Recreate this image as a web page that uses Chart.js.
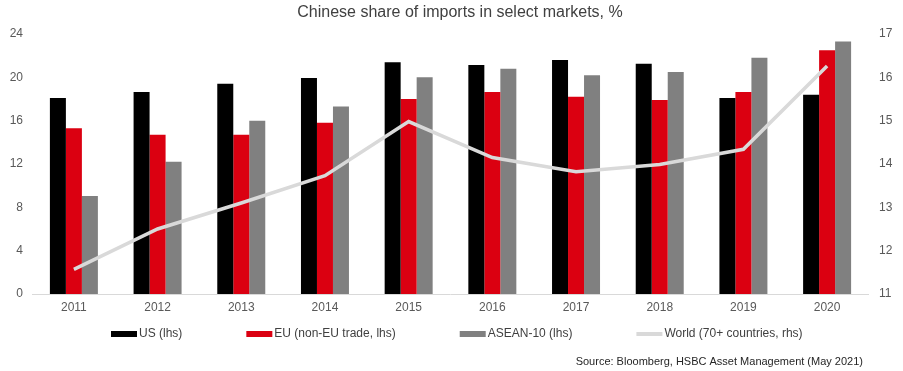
<!DOCTYPE html>
<html>
<head>
<meta charset="utf-8">
<script src="https://cdn.jsdelivr.net/npm/chart.js@4"></script>
<style>
  html, body { margin: 0; padding: 0; background: #fff; }
  #wrap { width: 903px; height: 371px; }
</style>
</head>
<body>
<div id="wrap"><canvas id="importShare"></canvas></div>
<script>
var years = ["2011", "2012", "2013", "2014", "2015", "2016", "2017", "2018", "2019", "2020"];
var usShare = [18.1, 18.65, 19.4, 19.95, 21.4, 21.15, 21.6, 21.25, 18.1, 18.4];
var euShare = [15.3, 14.7, 14.7, 15.8, 18.0, 18.65, 18.2, 17.9, 18.65, 22.5];
var aseanShare = [9.05, 12.2, 16.0, 17.3, 20.0, 20.8, 20.2, 20.5, 21.8, 23.3];
var worldShare = [11.57, 12.5, 13.1, 13.73, 14.98, 14.15, 13.82, 13.99, 14.34, 16.26];

var titleText = "Chinese share of imports in select markets, %";
var sourceText = "Source: Bloomberg, HSBC Asset Management (May 2021)";
var fontFamily = "'Liberation Sans', Arial, sans-serif";

Chart.defaults.font.family = fontFamily;
Chart.defaults.color = "#595959";

// title, legend row and source line drawn straight on the canvas
var chartTexts = {
  id: "chartTexts",
  afterDraw: function (chart) {
    var ctx = chart.ctx;
    ctx.save();
    ctx.textBaseline = "middle";

    ctx.font = "16px " + fontFamily;
    ctx.textAlign = "center";
    ctx.fillStyle = "#404040";
    ctx.fillText(titleText, 460, 13);

    ctx.font = "12px " + fontFamily;
    ctx.textAlign = "left";
    var x = 111, y = 334;
    chart.data.datasets.forEach(function (ds) {
      if (ds.type === "line") {
        ctx.strokeStyle = ds.borderColor;
        ctx.lineWidth = 4;
        ctx.beginPath();
        ctx.moveTo(x, y);
        ctx.lineTo(x + 26, y);
        ctx.stroke();
      } else {
        ctx.fillStyle = ds.backgroundColor;
        ctx.fillRect(x, y - 3, 26, 6);
      }
      ctx.fillStyle = "#404040";
      ctx.fillText(ds.label, x + 28, y);
      x += 28 + ctx.measureText(ds.label).width + 64;
    });

    ctx.font = "11px " + fontFamily;
    ctx.textAlign = "right";
    ctx.fillStyle = "#262626";
    ctx.fillText(sourceText, 863, 362);
    ctx.restore();
  }
};

new Chart("importShare", {
  type: "bar",
  data: {
    labels: years,
    datasets: [
      {label: "US (lhs)", data: usShare, backgroundColor: "#000000", yAxisID: "y", order: 2},
      {label: "EU (non-EU trade, lhs)", data: euShare, backgroundColor: "#db0011", yAxisID: "y", order: 2},
      {label: "ASEAN-10 (lhs)", data: aseanShare, backgroundColor: "#808080", yAxisID: "y", order: 2},
      {
        label: "World (70+ countries, rhs)",
        type: "line",
        data: worldShare,
        borderColor: "#d9d9d9",
        backgroundColor: "#d9d9d9",
        borderWidth: 3.5,
        pointRadius: 0,
        tension: 0,
        yAxisID: "y1",
        order: 1
      }
    ]
  },
  plugins: [chartTexts],
  options: {
    responsive: true,
    maintainAspectRatio: false,
    animation: false,
    layout: {padding: {left: 0.7, right: 0.7, top: 34, bottom: 49.6}},
    datasets: {bar: {barPercentage: 1, categoryPercentage: 0.5735}},
    plugins: {
      title: {display: false},
      legend: {display: false},
      tooltip: {enabled: false}
    },
    scales: {
      x: {
        grid: {display: false, drawTicks: false},
        border: {color: "#d9d9d9", width: 1},
        ticks: {font: {size: 12}, padding: 6.5}
      },
      y: {
        position: "left",
        min: 0,
        max: 24,
        grid: {display: false, drawTicks: false},
        border: {display: false},
        ticks: {stepSize: 4, font: {size: 12}, padding: 9}
      },
      y1: {
        position: "right",
        min: 11,
        max: 17,
        grid: {display: false, drawTicks: false},
        border: {display: false},
        ticks: {stepSize: 1, font: {size: 12}, padding: 10}
      }
    }
  }
});
</script>
</body>
</html>
